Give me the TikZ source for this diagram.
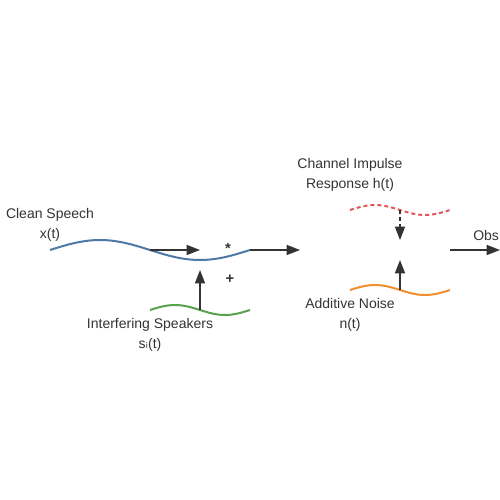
\documentclass[tikz,border=0pt]{standalone}
\usepackage{fontspec}
\setmainfont{Liberation Sans}
\newfontfamily\symfont{DejaVu Sans}
\usetikzlibrary{arrows.meta}

\definecolor{inkgray}{HTML}{333333}
\definecolor{speechblue}{HTML}{4E79A7}
\definecolor{speakgreen}{HTML}{59A14F}
\definecolor{chanred}{HTML}{E15759}
\definecolor{noiseorange}{HTML}{F28E2B}

\tikzset{
  label text/.style={text=inkgray, align=center, inner sep=0.75pt, font=\fontsize{10.5}{15}\selectfont},
  op sign/.style={text=inkgray, inner sep=0.75pt, font=\fontsize{11}{13}\selectfont\bfseries},
  wave/.style={line width=1.5pt},
  flow/.style={draw=inkgray, line width=1.1pt, -{Triangle[length=10pt,width=7.5pt]}},
}

\begin{document}
\begin{tikzpicture}[x=0.75pt,y=0.75pt,yscale=-1,xscale=1]
\useasboundingbox (0,0) rectangle (500,500);

%Waves
\draw [wave, speechblue] (50,250) sin (100,240) cos (150,250) sin (200,260) cos (250,250) ;
\draw [wave, speakgreen] (150,310) sin (175,305) cos (200,310) sin (225,315) cos (250,310) ;
\draw [wave, chanred, dash pattern={on 3pt off 2.25pt}] (350,210) sin (375,205) cos (400,210) sin (425,215) cos (450,210) ;
\draw [wave, noiseorange] (350,290) sin (375,285) cos (400,290) sin (425,295) cos (450,290) ;

%Coordinates
\coordinate (xout) at (150,250) ;
\coordinate (convin) at (200,250) ;
\coordinate (sout) at (200,310) ;
\coordinate (addin) at (200,270) ;
\coordinate (convout) at (250,250) ;
\coordinate (chanin) at (300,250) ;
\coordinate (hout) at (400,210) ;
\coordinate (hin) at (400,240) ;
\coordinate (nout) at (400,290) ;
\coordinate (nin) at (400,260) ;
\coordinate (yout) at (450,250) ;
\coordinate (yend) at (500,250) ;

% Text Node
\node [label text] (clean) at (50,225) {Clean Speech\\x(t)};
% Text Node
\node [label text] (interf) at (150,335) {Interfering Speakers\\s{\symfont ᵢ}(t)};
% Text Node
\node [label text] (chan) at (350,175) {Channel Impulse\\Response h(t)};
% Text Node
\node [label text] (noise) at (350,315) {Additive Noise\\n(t)};
% Text Node
\node [label text, anchor=west] (obs) at (472,235) {Obs};
% Text Node
\node [op sign] (conv) at (228,248) {*};
% Text Node
\node [op sign] (plus) at (230,279) {+};

%Arrows
\draw [flow] (xout) -- (convin) ;
\draw [flow] (sout) -- (addin) ;
\draw [flow] (convout) -- (chanin) ;
\draw [flow, dash pattern={on 3pt off 2.25pt}] (hout) -- (hin) ;
\draw [flow] (nout) -- (nin) ;
\draw [flow] (yout) -- (yend) ;

\end{tikzpicture}
\end{document}
